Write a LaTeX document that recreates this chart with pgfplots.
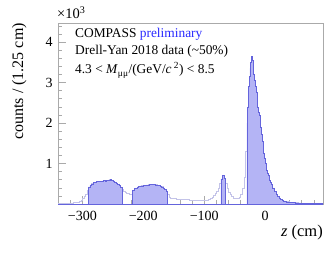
\documentclass[border=0pt]{standalone}
\usepackage{pgfplots}
\usepackage{pgfplotstable}
\pgfplotsset{compat=1.18}
\usepackage{fontspec}
\setmainfont{Liberation Serif}
\definecolor{fillc}{RGB}{180,180,245}
\definecolor{edgec}{RGB}{100,100,220}
\definecolor{outc}{RGB}{195,195,232}
\definecolor{framec}{RGB}{170,170,170}
\definecolor{prelim}{RGB}{40,40,255}

\pgfplotstableread{
z c
-340 10
-330 15
-320 25
-315 35
-310 50
-305 70
-302.5 95
-300 130
-297.5 180
-295 250
-292.5 330
-290 420
-287.5 470
-285 500
-282.5 525
-280 540
-277.5 550
-275 555
-272.5 560
-270 565
-267.5 570
-265 575
-262.5 568
-260 580
-257.5 595
-255 610
-252.5 590
-250 570
-247.5 545
-245 520
-242.5 490
-240 460
-237.5 420
-235 360
-232.5 320
-230 290
-227.5 270
-225 255
-222.5 245
-220 250
-217.5 340
-215 380
-212.5 400
-210 420
-207.5 435
-205 445
-202.5 450
-200 455
-197.5 462
-195 470
-192.5 475
-190 485
-187.5 488
-185 485
-182.5 480
-180 475
-177.5 468
-175 455
-172.5 440
-170 425
-167.5 400
-165 370
-162.5 320
-160 230
-157.5 175
-155 150
-150 135
-145 125
-140 115
-135 110
-130 105
-125 100
-120 95
-115 90
-110 88
-105 85
-100 90
-95 100
-92.5 120
-90 140
-87.5 170
-85 210
-82.5 260
-80 320
-77.5 400
-75 500
-72.5 620
-70 710
-67.5 640
-65 520
-62.5 400
-60 300
-57.5 230
-55 180
-52.5 150
-50 135
-47.5 130
-45 140
-42.5 170
-40 230
-37.5 380
-35 650
-32.5 1300
-30 2000
-28.75 2400
-27.5 2900
-26.25 3150
-25 3350
-23.75 3500
-22.5 3650
-21.25 3560
-20 3420
-18.75 3200
-17.5 3050
-16.25 2900
-15 2750
-13.75 2550
-12.5 2400
-11.25 2270
-10 2180
-8.75 2050
-7.5 1900
-6.25 1720
-5 1560
-3.75 1400
-2.5 1250
-1.25 1120
0 1000
1.25 900
2.5 830
3.75 770
5 700
6.25 640
7.5 580
8.75 530
10 480
12.5 400
15 310
17.5 240
20 190
22.5 150
25 115
27.5 90
30 75
32.5 62
35 55
40 45
45 36
50 30
55 25
60 20
65 17
70 15
75 12
80 10
85 8
90 7
95 7
}\allhist

\pgfplotstableread{
z c
-290 420
-287.5 470
-285 500
-282.5 525
-280 540
-277.5 550
-275 555
-272.5 560
-270 565
-267.5 570
-265 575
-262.5 568
-260 580
-257.5 595
-255 610
-252.5 590
-250 570
-247.5 545
-245 520
-242.5 490
-240 460
-237.5 420
-235 420
}\cellone

\pgfplotstableread{
z c
-217.5 340
-215 380
-212.5 400
-210 420
-207.5 435
-205 445
-202.5 450
-200 455
-197.5 462
-195 470
-192.5 475
-190 485
-187.5 488
-185 485
-182.5 480
-180 475
-177.5 468
-175 455
-172.5 440
-170 425
-167.5 400
-165 370
-162.5 320
-160 320
}\celltwo

\pgfplotstableread{
z c
-72.5 620
-70 710
-67.5 640
-65 640
}\narrowpeak

\pgfplotstableread{
z c
-30 2000
-28.75 2400
-27.5 2900
-26.25 3150
-25 3350
-23.75 3500
-22.5 3650
-21.25 3560
-20 3420
-18.75 3200
-17.5 3050
-16.25 2900
-15 2750
-13.75 2550
-12.5 2400
-11.25 2270
-10 2180
-8.75 2050
-7.5 1900
-6.25 1720
-5 1560
-3.75 1400
-2.5 1250
-1.25 1120
0 1000
1.25 900
2.5 830
3.75 770
5 700
6.25 640
7.5 580
8.75 530
10 480
12.5 400
15 310
17.5 240
20 190
22.5 150
25 115
27.5 90
30 75
32.5 62
35 55
40 45
45 36
50 30
55 25
60 20
65 17
70 15
75 12
80 10
85 8
90 7
95 7
}\absorber

\begin{document}
\begin{tikzpicture}
\begin{axis}[
  scale only axis, width=265bp, height=181bp,
  xmin=-340, xmax=95, ymin=0, ymax=4470,
  axis line style={framec, line width=0.6bp},
  tick align=inside, xtick pos=bottom, ytick pos=left,
  major tick length=7.5bp, minor tick length=4bp,
  every tick/.style={framec, line width=0.6bp},
  xtick={-300,-200,-100,0}, xticklabels={−300,−200,−100,0},
  minor xtick={-320,-280,-260,-240,-220,-180,-160,-140,-120,-80,-60,-40,-20,20,40,60,80},
  ytick={1000,2000,3000,4000}, yticklabels={1,2,3,4},
  minor ytick={200,400,600,800,1200,1400,1600,1800,2200,2400,2600,2800,3200,3400,3600,3800,4200,4400},
  scaled ticks=false,
  tick label style={font=\fontsize{14bp}{16bp}\selectfont, text=black},
  xticklabel style={anchor=base, inner sep=0pt, yshift=-16.5bp},
  yticklabel style={anchor=east, inner sep=0pt, xshift=-5.3bp},
]
\addplot[const plot, draw=outc, line width=0.6bp] table {\allhist};
\addplot[const plot, fill=fillc, draw=edgec, line width=0.5bp] table {\cellone} \closedcycle;
\addplot[const plot, fill=fillc, draw=edgec, line width=0.5bp] table {\celltwo} \closedcycle;
\addplot[const plot, fill=fillc, draw=edgec, line width=0.5bp] table {\narrowpeak} \closedcycle;
\addplot[const plot, fill=fillc, draw=edgec, line width=0.5bp] table {\absorber} \closedcycle;
\end{axis}
\draw[edgec, line width=0.8bp] (0,0) -- (265bp,0);
\node[anchor=base west, inner sep=0pt, font=\fontsize{14.5bp}{16bp}\selectfont] at (-1bp,185.7bp) {×10\textsuperscript{3}};
\node[anchor=base west, inner sep=0pt, font=\fontsize{13.4bp}{15bp}\selectfont] at (17bp,166.7bp) {COMPASS \textcolor{prelim}{preliminary}};
\node[anchor=base west, inner sep=0pt, font=\fontsize{13.4bp}{15bp}\selectfont] at (17bp,149bp) {Drell-Yan 2018 data (\textasciitilde 50\%)};
\node[anchor=base west, inner sep=0pt, font=\fontsize{13.4bp}{15bp}\selectfont] at (17bp,130bp) {4.3 < \textit{M}\textsubscript{μμ}/(GeV/\textit{c}\,\textsuperscript{2}) < 8.5};
\node[rotate=90, anchor=base east, inner sep=0pt, font=\fontsize{16bp}{18bp}\selectfont] at (-35bp,181bp) {counts / (1.25 cm)};
\node[anchor=base east, inner sep=0pt, font=\fontsize{16.5bp}{18bp}\selectfont] at (265bp,-32.5bp) {\textit{z} (cm)};
\pgfresetboundingbox
\path[use as bounding box] (-58bp,-50bp) rectangle (274bp,204bp);
\end{tikzpicture}
\end{document}
